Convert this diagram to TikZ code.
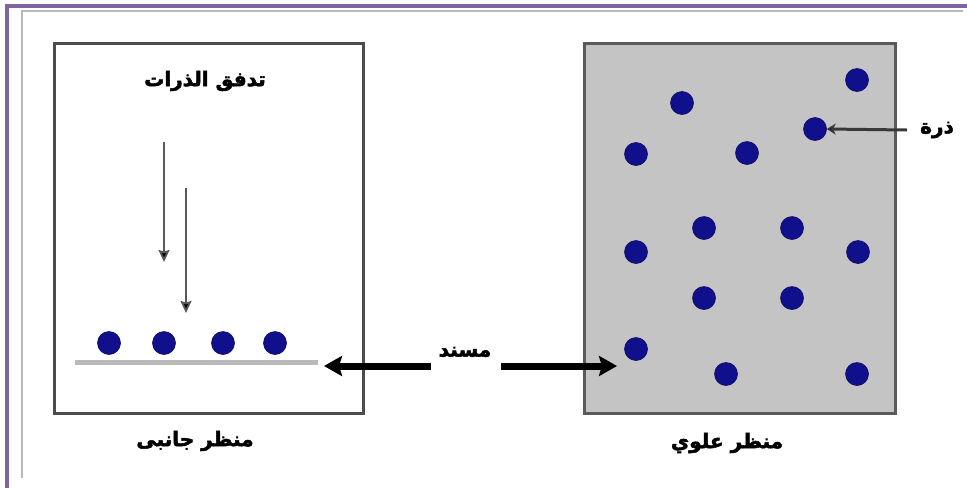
\documentclass[tikz,border=0pt]{standalone}
\usepackage{fontspec}
\usetikzlibrary{arrows.meta}
\TeXXeTstate=1
\newfontfamily\arabicfont[Script=Arabic,FakeBold=2.5]{DejaVu Sans}
\definecolor{frameviolet}{HTML}{8064A2}
\definecolor{atomblue}{HTML}{10108C}
\definecolor{panelgray}{HTML}{C4C4C4}
\definecolor{edgegray}{HTML}{5A5A5A}
\tikzset{
  atom/.style={circle, fill=atomblue, draw=atomblue!70!black, line width=0.6pt, minimum size=23pt, inner sep=0pt},
  panel/.style={rectangle, line width=3pt, inner sep=0pt, anchor=north west},
  lbl/.style={font=\arabicfont\bfseries\fontsize{20}{24}\selectfont, inner sep=1pt, text=black},
  thin arrow/.style={draw=gray!70!black, line width=1.8pt, -{Stealth[length=12pt,width=11pt,inset=1.5pt,fill=black]}},
  fat arrow/.style={draw=black, line width=7pt, -{Stealth[length=18pt,width=20pt,inset=3pt]}},
}
\begin{document}
\begin{tikzpicture}[x=1pt,y=-1pt]
\useasboundingbox (0,0) rectangle (967,488);
% page frame
\draw[gray!55, line width=1.5pt] (22,478) -- (22,11) -- (963,11);
\draw[frameviolet, line width=3.5pt] (7,488) -- (7,6) -- (967,6);
% panels
\node[panel, draw=gray!60!black, fill=white, minimum width=309pt, minimum height=370pt] (side) at (53,42) {};
\node[panel, draw=edgegray, fill=panelgray, minimum width=311pt, minimum height=370pt] (top) at (583,42) {};
% side view
\node[lbl] (flux) at (205,81) {\beginR تدفق الذرات\endR};
\coordinate (f1s) at (164,142); \coordinate (f1e) at (164,262);
\coordinate (f2s) at (186,188); \coordinate (f2e) at (186,313);
\draw[thin arrow] (f1s) -- (f1e);
\draw[thin arrow] (f2s) -- (f2e);
\coordinate (subL) at (75,362); \coordinate (subR) at (318,362);
\draw[gray!55, line width=5pt] (subL) -- (subR);
\node[atom] (s1) at (109,343) {};
\node[atom] (s2) at (164,343) {};
\node[atom] (s3) at (223,343) {};
\node[atom] (s4) at (275,343) {};
\node[lbl] (sidelbl) at (195,441) {\beginR منظر جانبى\endR};
% substrate label
\node[lbl] (sub) at (465,352) {\beginR مسند\endR};
\coordinate (aL) at (324,366); \coordinate (aR) at (617,366);
\draw[fat arrow] (431,366) -- (aL);
\draw[fat arrow] (501,366) -- (aR);
% top view atoms
\node[atom] (t1) at (857,80) {};
\node[atom] (t2) at (682,103) {};
\node[atom] (t3) at (815,129) {};
\node[atom] (t4) at (636,154) {};
\node[atom] (t5) at (747,153) {};
\node[atom] (t6) at (704,228) {};
\node[atom] (t7) at (792,228) {};
\node[atom] (t8) at (636,252) {};
\node[atom] (t9) at (858,252) {};
\node[atom] (t10) at (704,298) {};
\node[atom] (t11) at (792,298) {};
\node[atom] (t12) at (636,349) {};
\node[atom] (t13) at (726,374) {};
\node[atom] (t14) at (857,374) {};
\node[lbl] (atomlbl) at (937,130) {\beginR ذرة\endR};
\coordinate (atomarrow) at (907,130);
\draw[draw=gray!45!black, line width=3pt, -{Stealth[length=9pt,width=11pt,fill=black]}] (atomarrow) -- (t3.east);
\node[lbl] (toplbl) at (727,443) {\beginR منظر علوي\endR};
\end{tikzpicture}
\end{document}
